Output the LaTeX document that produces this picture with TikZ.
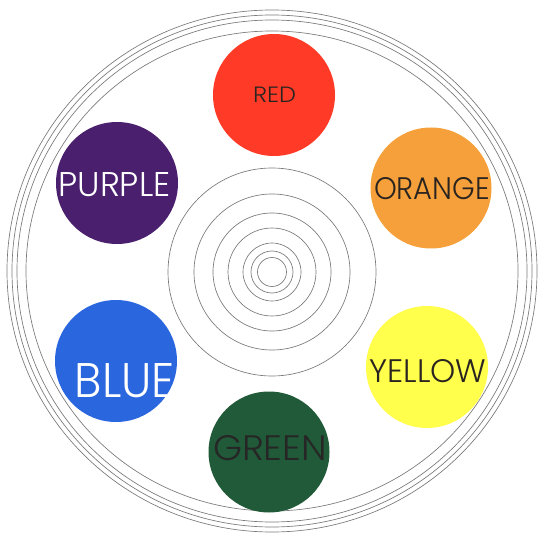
\documentclass[tikz,border=0pt]{standalone}
\usepackage{fontspec}
\setmainfont{Poppins Light}
\usepackage{graphicx}
\definecolor{cred}{HTML}{FF3B28}
\definecolor{corange}{HTML}{F5A03A}
\definecolor{cyellow}{HTML}{FFFF4C}
\definecolor{cgreen}{HTML}{205A38}
\definecolor{cblue}{HTML}{2A67DF}
\definecolor{cpurple}{HTML}{4A1F6E}
\definecolor{ring}{HTML}{7A7A7A}
\definecolor{darktext}{HTML}{2A2420}
\newlength{\pxu}\setlength{\pxu}{0.75pt}
\newcommand{\lbl}[3]{\resizebox{#1\pxu}{#2\pxu}{#3}}
\tikzset{
  ringline/.style={draw=ring, line width=0.5pt},
  dot/.style={circle, inner sep=0pt, minimum size=#1*0.75pt},
  lab/.style={inner sep=0pt}
}
\begin{document}
\begin{tikzpicture}[x=0.75pt, y=-0.75pt]
\useasboundingbox (0,0) rectangle (538,534);
\fill[white] (0,0) rectangle (538,534);
% outer rings
\coordinate (c) at (272,271);
\foreach \rx/\ry in {265/261, 260/256, 255/251, 246/240}
  \draw[ringline] (c) ellipse [x radius=\rx, y radius=\ry];
% inner concentric rings
\coordinate (ci) at (272,272);
\foreach \r in {104, 78, 59, 44, 29, 21, 14.5}
  \draw[ringline] (ci) circle [radius=\r];
% colour discs
\node[dot=122, fill=cred]    (red)    at (274,95)  {};
\node[dot=121, fill=corange] (orange) at (431,188) {};
\node[dot=122, fill=cyellow] (yellow) at (427,367) {};
\node[dot=121, fill=cgreen]  (green)  at (269,452) {};
\node[dot=122, fill=cblue]   (blue)   at (116,361) {};
\node[dot=122, fill=cpurple] (purple) at (117,183) {};
% labels
\node[lab, text=darktext] (tred)    at (274.5,95)  {\lbl{43}{15.5}{RED}};
\node[lab, text=darktext] (torange) at (432,188.3) {\lbl{116}{22}{ORANGE}};
\node[lab, text=darktext] (tyellow) at (428,371)   {\lbl{117}{23}{YELLOW}};
\node[lab, text=black!85] (tgreen)  at (270,448.3) {\lbl{114}{25}{GREEN}};
\node[lab, text=white]    (tblue)   at (125,381)   {\lbl{100}{34}{BLUE}};
\node[lab, text=white]    (tpurple) at (114.5,184.7) {\lbl{112}{24}{PURPLE}};
\end{tikzpicture}
\end{document}
